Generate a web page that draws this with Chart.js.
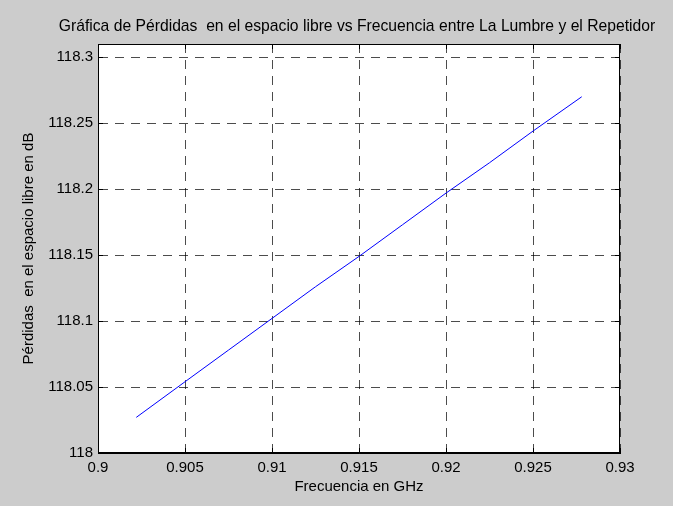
<!DOCTYPE html>
<html>
<head>
<meta charset="utf-8">
<script src="https://cdn.jsdelivr.net/npm/chart.js@4"></script>
<style>
  html, body { margin: 0; padding: 0; background: #cccccc; }
  canvas { display: block; }
</style>
</head>
<body>
<canvas id="plot" width="673" height="506"></canvas>
<script>
// values
var frecuencia = [0.9022, 0.905, 0.9075, 0.91, 0.9125, 0.915, 0.9175, 0.92, 0.9225, 0.925, 0.9278];
var perdidas = [118.027, 118.054, 118.078, 118.102, 118.126, 118.149, 118.173, 118.197, 118.220, 118.244, 118.270];
var xTicks = [0.9, 0.905, 0.91, 0.915, 0.92, 0.925, 0.93];
var yTicks = [118, 118.05, 118.1, 118.15, 118.2, 118.25, 118.3];
var titulo = 'Gráfica de Pérdidas  en el espacio libre vs Frecuencia entre La Lumbre y el Repetidor';

var puntos = frecuencia.map(function (f, i) { return {x: f, y: perdidas[i]}; });
var fuente = '"Liberation Sans", Arial, Helvetica, sans-serif';

// white plot area, black box, inward ticks and the title, like matlab
// (the title plugin squeezes text to the plot width, so it is drawn here)
var marco = {
  id: 'marco',
  beforeDraw: function (chart) {
    var a = chart.chartArea, ctx = chart.ctx;
    ctx.save();
    ctx.fillStyle = '#ffffff';
    ctx.fillRect(a.left, a.top, a.right - a.left, a.bottom - a.top);
    ctx.restore();
  },
  afterDraw: function (chart) {
    var a = chart.chartArea, ctx = chart.ctx;
    var sx = chart.scales.x, sy = chart.scales.y;
    ctx.save();
    ctx.strokeStyle = '#000';
    ctx.lineWidth = 1;
    ctx.strokeRect(a.left + 0.5, a.top + 0.5, a.right - a.left - 1, a.bottom - a.top - 1);
    ctx.beginPath();
    xTicks.forEach(function (v) {
      var px = Math.round(sx.getPixelForValue(v)) + 0.5;
      ctx.moveTo(px, a.bottom); ctx.lineTo(px, a.bottom - 5);
      ctx.moveTo(px, a.top); ctx.lineTo(px, a.top + 5);
    });
    yTicks.forEach(function (v) {
      var py = Math.round(sy.getPixelForValue(v)) + 0.5;
      ctx.moveTo(a.left, py); ctx.lineTo(a.left + 5, py);
      ctx.moveTo(a.right, py); ctx.lineTo(a.right - 5, py);
    });
    ctx.stroke();

    ctx.fillStyle = '#000';
    ctx.font = '15.7px ' + fuente;
    ctx.textAlign = 'center';
    ctx.textBaseline = 'alphabetic';
    ctx.fillText(titulo, (a.left + a.right) / 2 - 2, a.top - 13);
    ctx.restore();
  }
};

new Chart(document.getElementById('plot'), {
  type: 'line',
  data: {
    datasets: [{
      data: puntos,
      borderColor: '#0000ff',
      borderWidth: 1,
      pointRadius: 0,
      fill: false,
      tension: 0
    }]
  },
  options: {
    responsive: false,
    animation: false,
    devicePixelRatio: 1,
    layout: { padding: { left: 0, right: 53, top: 44, bottom: 0 } },
    plugins: {
      legend: { display: false },
      tooltip: { enabled: false },
      title: { display: false }
    },
    scales: {
      x: {
        type: 'linear',
        min: 0.9,
        max: 0.93,
        afterBuildTicks: function (s) { s.ticks = xTicks.map(function (v) { return {value: v}; }); },
        afterFit: function (s) { s.height = 53; },
        ticks: {
          color: '#000',
          padding: 6,
          maxRotation: 0,
          autoSkip: false,
          font: { family: fuente, size: 15 },
          callback: function (v) { return String(v); }
        },
        grid: {
          color: 'rgba(0,0,0,0.7)',
          drawTicks: false
        },
        border: { display: true, color: '#000', dash: [9, 7] },
        title: {
          display: true,
          text: 'Frecuencia en GHz',
          color: '#000',
          font: { family: fuente, size: 15 },
          padding: { top: 0, bottom: 10 }
        }
      },
      y: {
        type: 'linear',
        min: 118,
        max: 118.31,
        afterBuildTicks: function (s) { s.ticks = yTicks.map(function (v) { return {value: v}; }); },
        afterFit: function (s) { s.width = 98; },
        ticks: {
          color: '#000',
          padding: 5,
          autoSkip: false,
          font: { family: fuente, size: 15 },
          callback: function (v) { return String(v); }
        },
        grid: {
          color: 'rgba(0,0,0,0.7)',
          drawTicks: false
        },
        border: { display: true, color: '#000', dash: [9, 7] },
        title: {
          display: true,
          text: 'Pérdidas  en el espacio libre en dB',
          color: '#000',
          font: { family: fuente, size: 15 },
          padding: { top: 20, bottom: 0 }
        }
      }
    }
  },
  plugins: [marco]
});
</script>
</body>
</html>
